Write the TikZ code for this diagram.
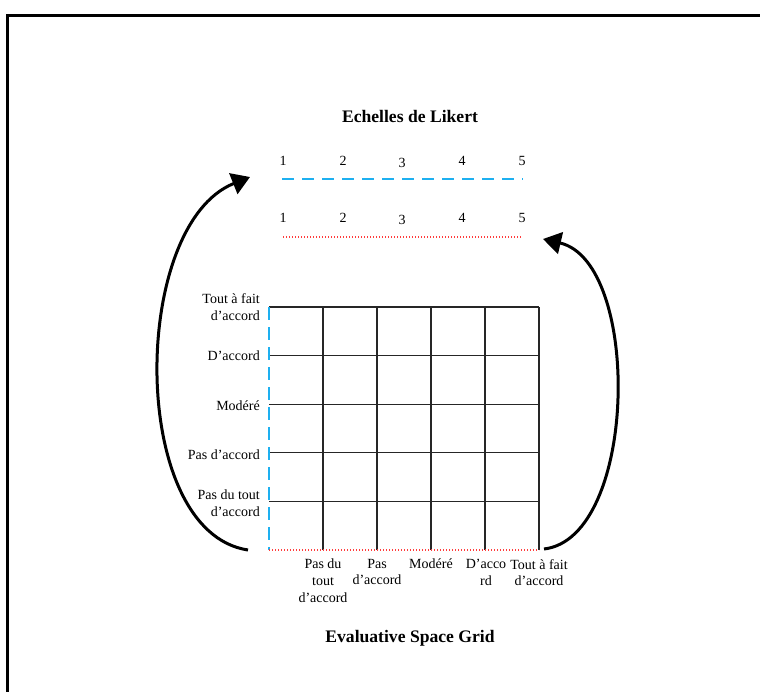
\documentclass[tikz,border=0pt]{standalone}
\usepackage{fontspec}
\setmainfont{Liberation Serif}
\usetikzlibrary{arrows.meta}
\definecolor{likblue}{RGB}{30,176,240}
\definecolor{likred}{RGB}{255,60,60}
\tikzset{
  lbl/.style={inner sep=0pt, font=\fontsize{14}{16.6}\selectfont},
  ttl/.style={inner sep=0pt, font=\fontsize{17.6}{20}\selectfont\bfseries},
  bluedash/.style={draw=likblue, line width=2.2pt, dash pattern=on 12pt off 8pt},
  reddot/.style={draw=likred, line width=1.6pt, dash pattern=on 1.4pt off 1.6pt},
  gridline/.style={draw=black!85, line width=1.1pt},
  bigarrow/.style={draw=black, line width=3pt, -{Triangle[length=18pt,width=22pt]}},
}
\begin{document}
\begin{tikzpicture}[x=1pt,y=-1pt]
\useasboundingbox (0,0) rectangle (760,691);
% frame
\draw[line width=2.2pt, line cap=rect] (7.5,691) -- (7.5,15.5) -- (760,15.5);

% title
\node[ttl] (t1) at (410,116) {Echelles de Likert};
% numbers row 1
\foreach \i/\x/\dy in {1/283/0,2/343/0,3/402/1.5,4/462/0,5/522/0}{
  \node[lbl] (a\i) at (\x,161+\dy) {\i};
}
\coordinate (b1s) at (282,179);
\coordinate (b1e) at (523,179);
\draw[bluedash] (b1s) -- (b1e);
% numbers row 2
\foreach \i/\x/\dy in {1/283/0,2/343/0,3/402/1.5,4/462/0,5/522/0}{
  \node[lbl] (n\i) at (\x,218+\dy) {\i};
}
\coordinate (r1s) at (283,237);
\coordinate (r1e) at (522,237);
\draw[reddot] (r1s) -- (r1e);

% grid
\coordinate (g00) at (269,307);
\foreach \j/\y in {0/307,1/355.6,2/404.2,3/452.8,4/501.4}{
  \draw[gridline] (269,\y) -- (539,\y);
}
\foreach \i/\x in {1/323,2/377,3/431,4/485,5/539}{
  \draw[gridline] (\x,307) -- (\x,550);
}
\coordinate (gbl) at (269,550);
\coordinate (gbr) at (539,550);
\coordinate (gtl) at (269,307);
\draw[bluedash, dash pattern=on 13pt off 7pt] (gtl) -- (gbl);
\draw[reddot] (gbl) -- (gbr);

% left labels
\node[lbl, anchor=east, align=right] (y5) at (260,307) {Tout à fait\\d’accord};
\node[lbl, anchor=east] (y4) at (260,356) {D’accord};
\node[lbl, anchor=east] (y3) at (260,406) {Modéré};
\node[lbl, anchor=east] (y2) at (260,455) {Pas d’accord};
\node[lbl, anchor=east, align=right] (y1) at (260,503) {Pas du tout\\d’accord};

% bottom labels
\node[lbl, anchor=north, align=center] (x1) at (323,559) {Pas du\\tout\\d’accord};
\node[lbl, anchor=north, align=center] (x2) at (377,559) {Pas\\d’accord};
\node[lbl, anchor=north, align=center] (x3) at (431,559) {Modéré};
\node[lbl, anchor=north, align=center] (x4) at (486,559) {D’acco\\rd};
\node[lbl, anchor=north, align=center] (x5) at (539,559) {Tout à fait\\d’accord};

\node[ttl] (t2) at (410,638) {Evaluative Space Grid};

% arrows
\coordinate (la) at (248,550);
\coordinate (lb) at (250,177);
\draw[bigarrow] (la) .. controls (128,532) and (130,225) .. (lb);
\coordinate (ra) at (544,549);
\coordinate (rb) at (543,239);
\draw[bigarrow] (ra) .. controls (638,538) and (642,262) .. (rb);
\end{tikzpicture}
\end{document}
